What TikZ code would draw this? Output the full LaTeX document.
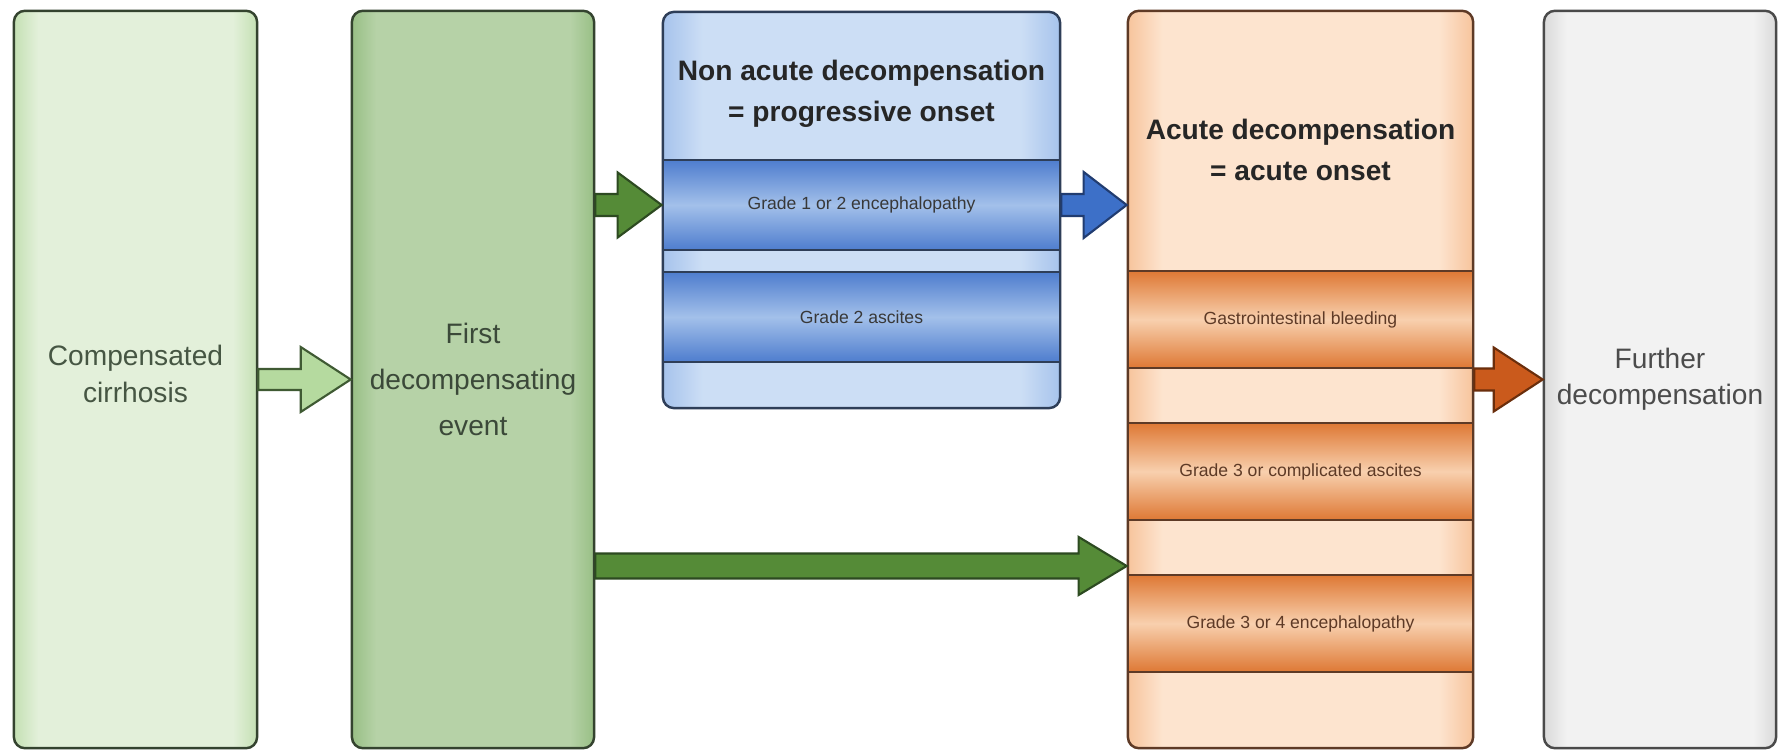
\documentclass[tikz,border=0pt]{standalone}
\usepackage{fontspec}
\setmainfont{Liberation Sans}
\usetikzlibrary{calc}

\definecolor{compfill}{HTML}{E3F0DA}
\definecolor{compedge}{HTML}{C4E0B3}
\definecolor{firstfill}{HTML}{B6D2A7}
\definecolor{firstedge}{HTML}{98BF85}
\definecolor{greenline}{HTML}{34432F}
\definecolor{greentext}{HTML}{465643}
\definecolor{bluefill}{HTML}{CCDEF5}
\definecolor{blueedge}{HTML}{A6C3EC}
\definecolor{blueband}{HTML}{A3C0EA}
\definecolor{bluebandedge}{HTML}{4E7DCE}
\definecolor{blueline}{HTML}{2E3E58}
\definecolor{orangefill}{HTML}{FDE4CF}
\definecolor{orangeedge}{HTML}{F7C49C}
\definecolor{orangeband}{HTML}{F8D0AE}
\definecolor{orangebandedge}{HTML}{DE7834}
\definecolor{orangeline}{HTML}{5E3A26}
\definecolor{greyfill}{HTML}{F2F2F2}
\definecolor{greyedge}{HTML}{DADADA}
\definecolor{greyline}{HTML}{4A4A4A}
\definecolor{lightarrow}{HTML}{B5DA9F}
\definecolor{lightarrowline}{HTML}{3F5A33}
\definecolor{darkarrow}{HTML}{558B37}
\definecolor{darkarrowline}{HTML}{2D4A21}
\definecolor{bluearrow}{HTML}{3D70C8}
\definecolor{bluearrowline}{HTML}{213C70}
\definecolor{orangearrow}{HTML}{CA5A1C}
\definecolor{orangearrowline}{HTML}{6A2E0C}

% soft glow at the left and right edges of a box
\newcommand{\glowshading}[3]{%
  \pgfdeclarehorizontalshading{#1}{100bp}{color(0bp)=(#2); color(25bp)=(#2);
    color(30bp)=(#3); color(70bp)=(#3); color(75bp)=(#2); color(100bp)=(#2)}}
\glowshading{compglow}{compedge}{compfill}
\glowshading{firstglow}{firstedge}{firstfill}
\glowshading{nacuteglow}{blueedge}{bluefill}
\glowshading{acuteglow}{orangeedge}{orangefill}
\glowshading{furtherglow}{greyedge}{greyfill}

\tikzset{
  stage/.style={shade, line width=0.7pt, rounded corners=0.11cm, inner sep=0pt,
    align=center, font=\fontsize{8}{10.3}\selectfont},
  band/.style={line width=0.7pt, inner sep=0pt, text=black!78,
    font=\fontsize{5}{6}\selectfont},
  stagetitle/.style={align=center, inner sep=0pt, text=black!85,
    font=\bfseries\fontsize{8}{11.6}\selectfont},
  blockline/.style={line width=0.6pt, line join=miter}
}

% block arrow: style, from, to, half shaft, half head, head length
\newcommand{\blockarrow}[6]{%
  \draw [blockline, #1] ($(#2)+(0,-#4)$) -- ($(#3)+(-#6,-#4)$)
    -- ($(#3)+(-#6,-#5)$) -- (#3) -- ($(#3)+(-#6,#5)$)
    -- ($(#3)+(-#6,#4)$) -- ($(#2)+(0,#4)$) -- cycle;}

\begin{document}
\begin{tikzpicture}[x=0.01cm, y=-0.01cm]
  \useasboundingbox (0,0) rectangle (1791,752);
  \fill [white] (0,0) rectangle (1791,752);

  % Compensated cirrhosis
  \node [stage, shading=compglow, draw=greenline,
    minimum width=2.43cm, minimum height=7.37cm] (comp) at (135.5,379.5) {};
  \node [align=center, inner sep=0pt, text=greentext,
    font=\fontsize{8}{10.3}\selectfont] (comptext) at (135.5,374)
    {Compensated\\cirrhosis};

  % First decompensating event
  \node [stage, shading=firstglow, draw=greenline, text=greentext!85!black,
    font=\fontsize{8}{13}\selectfont,
    minimum width=2.42cm, minimum height=7.37cm] (first) at (473,379.5)
    {First\\decompensating\\event};

  % Non acute decompensation
  \node [stage, shading=nacuteglow, draw=blueline,
    minimum width=3.97cm, minimum height=3.96cm] (nacute) at (861.5,210) {};
  \node [stagetitle] (ntitle) at (861.5,94)
    {Non acute decompensation\\= progressive onset};
  \node [band, draw=blueline, top color=bluebandedge, bottom color=bluebandedge,
    middle color=blueband, minimum width=3.97cm, minimum height=0.9cm]
    (nband1) at (861.5,205) {Grade 1 or 2 encephalopathy};
  \node [band, draw=blueline, top color=bluebandedge, bottom color=bluebandedge,
    middle color=blueband, minimum width=3.97cm, minimum height=0.9cm]
    (nband2) at (861.5,317) {Grade 2 ascites};

  % Acute decompensation
  \node [stage, shading=acuteglow, draw=orangeline,
    minimum width=3.45cm, minimum height=7.37cm] (acute) at (1300.5,379.5) {};
  \node [stagetitle] (atitle) at (1300.5,150)
    {Acute decompensation\\= acute onset};
  \node [band, draw=orangeline, text=orangeline, top color=orangebandedge,
    bottom color=orangebandedge, middle color=orangeband,
    minimum width=3.45cm, minimum height=0.97cm]
    (aband1) at (1300.5,319.5) {Gastrointestinal bleeding};
  \node [band, draw=orangeline, text=orangeline, top color=orangebandedge,
    bottom color=orangebandedge, middle color=orangeband,
    minimum width=3.45cm, minimum height=0.97cm]
    (aband2) at (1300.5,471.5) {Grade 3 or complicated ascites};
  \node [band, draw=orangeline, text=orangeline, top color=orangebandedge,
    bottom color=orangebandedge, middle color=orangeband,
    minimum width=3.45cm, minimum height=0.97cm]
    (aband3) at (1300.5,623.5) {Grade 3 or 4 encephalopathy};

  % Further decompensation
  \node [stage, shading=furtherglow, draw=greyline, text=black!70,
    minimum width=2.32cm, minimum height=7.37cm] (further) at (1660,379.5)
    {Further\\decompensation};

  % Edges
  \coordinate (a2s) at (first.east |- nband1.west);
  \coordinate (a3s) at (nacute.east |- nband1.west);
  \coordinate (a3e) at (acute.west |- nband1.west);
  \coordinate (a4s) at (acute.east |- further.west);
  \coordinate (a5s) at (first.east |- 0,566);
  \coordinate (a5e) at (acute.west |- 0,566);
  \blockarrow{fill=lightarrow, draw=lightarrowline}{comp.east}{first.west}{10.5}{32.5}{50}
  \blockarrow{fill=darkarrow, draw=darkarrowline}{a2s}{nband1.west}{11}{32.5}{44}
  \blockarrow{fill=bluearrow, draw=bluearrowline}{a3s}{a3e}{11}{33}{43}
  \blockarrow{fill=orangearrow, draw=orangearrowline}{a4s}{further.west}{11}{32}{49}
  \blockarrow{fill=darkarrow, draw=darkarrowline}{a5s}{a5e}{12.5}{29}{48}
\end{tikzpicture}
\end{document}
